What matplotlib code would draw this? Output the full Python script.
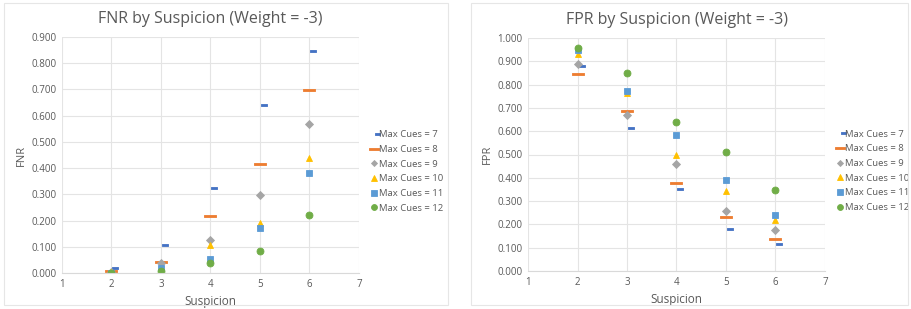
import matplotlib.pyplot as plt
import matplotlib.patches as mpatches
from matplotlib.path import Path
import numpy as np

plt.rcParams['font.family'] = ['Open Sans', 'DejaVu Sans']

suspicion = [2, 3, 4, 5, 6]
labels = ['Max Cues = 7', 'Max Cues = 8', 'Max Cues = 9',
          'Max Cues = 10', 'Max Cues = 11', 'Max Cues = 12']

fnr_7 = [0.019, 0.108, 0.325, 0.642, 0.846]
fnr_8 = [0.008, 0.043, 0.218, 0.417, 0.699]
fnr_9 = [0.003, 0.037, 0.126, 0.296, 0.569]
fnr_10 = [0.002, 0.020, 0.105, 0.189, 0.437]
fnr_11 = [0.000, 0.019, 0.054, 0.171, 0.381]
fnr_12 = [0.000, 0.009, 0.040, 0.084, 0.221]

fpr_7 = [0.880, 0.615, 0.353, 0.180, 0.117]
fpr_8 = [0.847, 0.688, 0.379, 0.233, 0.136]
fpr_9 = [0.888, 0.670, 0.459, 0.258, 0.177]
fpr_10 = [0.930, 0.765, 0.499, 0.343, 0.217]
fpr_11 = [0.950, 0.774, 0.582, 0.389, 0.242]
fpr_12 = [0.957, 0.848, 0.638, 0.511, 0.346]

colors = ['#4472C4', '#ED7D31', '#A5A5A5', '#FFC000', '#5B9BD5', '#70AD47']

# Excel style short dash, drawn a bit right of the point
short_dash = Path([(0.1, -0.16), (1.0, -0.16), (1.0, 0.16), (0.1, 0.16), (0.1, -0.16)],
                  [Path.MOVETO, Path.LINETO, Path.LINETO, Path.LINETO, Path.CLOSEPOLY])
long_dash = Path([(-1.0, -0.16), (1.0, -0.16), (1.0, 0.16), (-1.0, 0.16), (-1.0, -0.16)],
                 [Path.MOVETO, Path.LINETO, Path.LINETO, Path.LINETO, Path.CLOSEPOLY])
markers = [short_dash, long_dash, 'D', '^', 's', 'o']
sizes = [10, 9, 3.6, 5, 4.6, 5]

fig = plt.figure(figsize=(9.12, 3.09), dpi=100)

for px0, px1 in [(4, 448), (471, 908)]:
    fig.add_artist(mpatches.Rectangle((px0 / 912, 4 / 309), (px1 - px0) / 912, 302 / 309,
                                      transform=fig.transFigure, fill=False,
                                      edgecolor='#E6E6E6', linewidth=0.8))


def draw(ax, series, title, ylabel, ymax):
    for vals, m, c, s, lab in zip(series, markers, colors, sizes, labels):
        ax.plot(suspicion, vals, linestyle='none', marker=m, markersize=s,
                color=c, markeredgecolor=c, markeredgewidth=0.6, label=lab)
    ax.set_xlim(1, 7)
    ax.set_ylim(0, ymax)
    ax.set_xticks(range(1, 8))
    ax.set_yticks(np.arange(0, ymax + 0.001, 0.1))
    ax.set_yticklabels(['%.3f' % v for v in np.arange(0, ymax + 0.001, 0.1)])
    ax.tick_params(labelsize=7, colors='#595959', length=0, pad=4)
    ax.grid(True, color='#E4E4E4', linewidth=0.8)
    ax.set_axisbelow(True)
    for sp in ['top', 'right', 'left']:
        ax.spines[sp].set_visible(False)
    ax.spines['bottom'].set_color('#D9D9D9')
    ax.set_xlabel('Suspicion', fontsize=8.5, color='#595959', labelpad=4)
    ax.set_ylabel(ylabel, fontsize=8, color='#595959', labelpad=3)
    ax.set_title(title, fontsize=11.5, color='#595959', pad=10)
    leg = ax.legend(loc='center left', bbox_to_anchor=(1.04, 0.43), frameon=False,
                    fontsize=6.8, handletextpad=0.2, handlelength=0.7,
                    labelspacing=0.6, labelcolor='#595959', markerscale=0.85,
                    borderaxespad=0, borderpad=0)
    return leg


ax1 = fig.add_axes([62 / 912, 1 - 273 / 309, 297 / 912, 236 / 309])
draw(ax1, [fnr_7, fnr_8, fnr_9, fnr_10, fnr_11, fnr_12],
     'FNR by Suspicion (Weight = -3)', 'FNR', 0.9)

ax2 = fig.add_axes([528 / 912, 1 - 271 / 309, 297 / 912, 233 / 309])
draw(ax2, [fpr_7, fpr_8, fpr_9, fpr_10, fpr_11, fpr_12],
     'FPR by Suspicion (Weight = -3)', 'FPR', 1.0)

plt.savefig('out.png', dpi=100)
